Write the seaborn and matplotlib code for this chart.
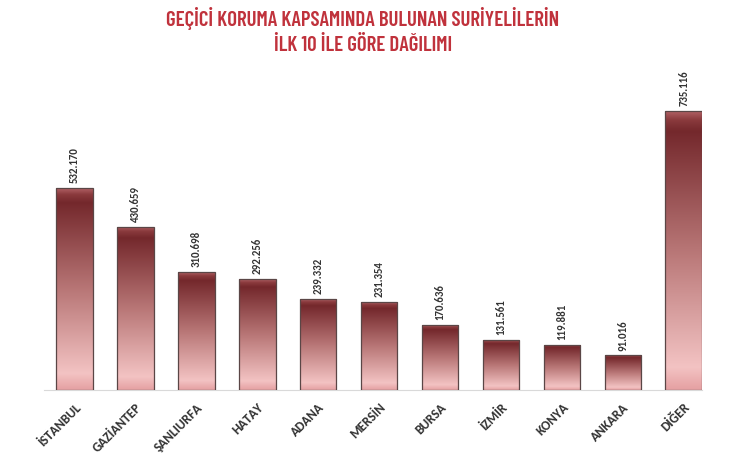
import numpy as np
import pandas as pd
import matplotlib
matplotlib.use('Agg')
import matplotlib.pyplot as plt
from matplotlib.colors import LinearSegmentedColormap
from matplotlib import font_manager
import seaborn as sns

# Data
iller = ['İSTANBUL', 'GAZİANTEP', 'ŞANLIURFA', 'HATAY', 'ADANA', 'MERSİN',
         'BURSA', 'İZMİR', 'KONYA', 'ANKARA', 'DİĞER']
kisi = [532170, 430659, 310698, 292256, 239332, 231354,
        170636, 131561, 119881, 91016, 735116]
baslik = 'GEÇİCİ KORUMA KAPSAMINDA BULUNAN SURİYELİLERİN\nİLK 10 İLE GÖRE DAĞILIMI'

df = pd.DataFrame({'il': iller, 'kisi': kisi})

sns.set_theme(style='white')

names = {f.name for f in font_manager.fontManager.ttflist}
def pick(*cands):
    for c in cands:
        if c in names:
            return c
    return 'DejaVu Sans'

title_font = pick('Barlow Condensed', 'Roboto Condensed', 'Saira Condensed')
label_font = pick('Carlito', 'Open Sans', 'Lato')
plt.rcParams['font.family'] = [label_font, 'DejaVu Sans']

fig = plt.figure(figsize=(7.41, 4.61), dpi=100)
ax = fig.add_axes([44 / 741, 1 - 390 / 461, 658 / 741, 330 / 461])

sns.barplot(data=df, x='il', y='kisi', color='#a05050', width=0.6,
            edgecolor='#5a4646', linewidth=0.9, ax=ax, zorder=2)

# gradient fill on each bar (dark top -> light pink -> slightly darker bottom)
cmap = LinearSegmentedColormap.from_list('bar', [
    (0.0, '#e5a0a2'), (0.08, '#f3c3c3'), (0.5, '#b87676'),
    (0.93, '#74282c'), (0.97, '#8a3a3d'), (1.0, '#b06064')])
grad = np.linspace(0, 1, 256).reshape(-1, 1)
for p in ax.patches:
    x0, y0 = p.get_x(), p.get_y()
    w, h = p.get_width(), p.get_height()
    im = ax.imshow(grad, cmap=cmap, origin='lower', aspect='auto',
                   extent=[x0, x0 + w, y0, y0 + h], zorder=2.5)
    im.set_clip_path(p)
    p.set_facecolor('none')
    p.set_zorder(3)

# value labels
for i, v in enumerate(kisi):
    ax.annotate(f'{v:,}'.replace(',', '.'), (i, v), xytext=(0, 3.5),
                textcoords='offset points', rotation=90, ha='center', va='bottom',
                fontsize=7.8, fontweight='bold', color='#333333')

ax.set_xlim(-0.5, 10.3)
ax.set_ylim(0, 869600)
ax.set_xlabel('')
ax.set_ylabel('')
ax.set_yticks([])
ax.set_xticks(range(len(iller)))
ax.set_xticklabels(iller, rotation=45, ha='right', rotation_mode='anchor',
                   fontsize=9.5, fontweight='bold', color='#333333')
ax.tick_params(axis='x', length=0, pad=8)
for s in ['top', 'right', 'left']:
    ax.spines[s].set_visible(False)
ax.spines['bottom'].set_color('#d9d9d9')
ax.spines['bottom'].set_linewidth(0.8)

fig.text(363 / 741, 1 - 31 / 461, baslik, ha='center', va='center',
         fontsize=15, fontweight='semibold', color='#c0323c',
         family=[title_font, 'DejaVu Sans'], linespacing=1.35)

fig.savefig('out.png', dpi=100)
